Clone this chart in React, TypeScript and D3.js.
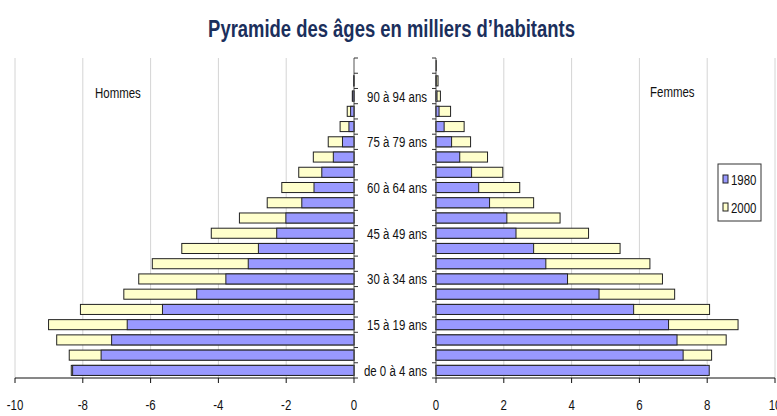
import React from "react";
import * as d3 from "d3";

const ages = [
  "de 0 à 4 ans", "5 à 9 ans", "10 à 14 ans", "15 à 19 ans", "20 à 24 ans",
  "25 à 29 ans", "30 à 34 ans", "35 à 39 ans", "40 à 44 ans", "45 à 49 ans",
  "50 à 54 ans", "55 à 59 ans", "60 à 64 ans", "65 à 69 ans", "70 à 74 ans",
  "75 à 79 ans", "80 à 84 ans", "85 à 89 ans", "90 à 94 ans", "95 à 99 ans",
  "100 ans et plus",
];
const hommes1980 = [8.30, 7.46, 7.15, 6.69, 5.65, 4.64, 3.78, 3.12, 2.82, 2.28, 2.01, 1.54, 1.18, 0.95, 0.61, 0.34, 0.15, 0.10, 0.04, 0.01, 0];
const hommes2000 = [8.34, 8.40, 8.77, 9.01, 8.07, 6.79, 6.35, 5.95, 5.08, 4.21, 3.38, 2.56, 2.13, 1.63, 1.20, 0.76, 0.41, 0.20, 0.05, 0.01, 0];
const femmes1980 = [8.06, 7.29, 7.11, 6.86, 5.83, 4.81, 3.88, 3.24, 2.88, 2.36, 2.09, 1.58, 1.26, 1.05, 0.70, 0.46, 0.24, 0.09, 0.03, 0.01, 0];
const femmes2000 = [7.95, 8.13, 8.56, 8.91, 8.07, 7.04, 6.68, 6.31, 5.43, 4.50, 3.66, 2.88, 2.47, 1.97, 1.52, 1.02, 0.83, 0.43, 0.13, 0.06, 0.01];
const ticksLeft = [-10, -8, -6, -4, -2, 0];
const ticksRight = [0, 2, 4, 6, 8, 10];
const seriesNames = ["1980", "2000"];

const C1980 = "#9999ff";
const C2000 = "#ffffcc";
const FONT = "'Liberation Sans', Arial, sans-serif";

function T(props: {
  x: number; y: number; size: number; sx?: number; anchor?: string; bold?: boolean; fill?: string; dy?: string; children: React.ReactNode;
}) {
  const { x, y, size, sx = 0.74, anchor = "start", bold = false, fill = "#111", dy, children } = props;
  return (
    <text
      transform={`translate(${x},${y}) scale(${sx},1)`}
      x={0}
      y={0}
      dy={dy}
      fontSize={size}
      fontWeight={bold ? "bold" : "normal"}
      textAnchor={anchor}
      fill={fill}
      fontFamily={FONT}
    >
      {children}
    </text>
  );
}

export default function App() {
  const W = 777, H = 416;
  const top = 58, bottom = 378;
  const xL = d3.scaleLinear().domain([-10, 0]).range([15, 354]);
  const xR = d3.scaleLinear().domain([0, 10]).range([436, 775]);
  const y = d3.scaleBand<string>().domain(ages).range([bottom, top]);
  const bw = y.bandwidth();
  const barY = (a: string) => (y(a) as number) + bw * 0.17;
  const barH = bw * 0.66;
  const boundaries = d3.range(ages.length + 1).map((i) => bottom - i * y.step());
  const FS = 15.5;

  return (
    <svg width={W} height={H} style={{ position: "absolute", left: 0, top: 0, background: "#fff" }} fontFamily={FONT}>
      <rect x={0} y={0} width={W} height={H} fill="#fff" />
      <T x={391.5} y={37} size={23.5} sx={0.785} bold anchor="middle" fill="#1b2f5c">
        Pyramide des âges en milliers d’habitants
      </T>

      {/* gridlines */}
      {ticksLeft.slice(0, -1).map((t) => (
        <line key={"gl" + t} x1={xL(t)} x2={xL(t)} y1={top} y2={bottom} stroke="#d4d4d4" strokeWidth={1} />
      ))}
      {ticksRight.slice(1).map((t) => (
        <line key={"gr" + t} x1={xR(t)} x2={xR(t)} y1={top} y2={bottom} stroke="#d4d4d4" strokeWidth={1} />
      ))}

      <T x={95} y={98} size={FS}>Hommes</T>
      <T x={650} y={97} size={FS}>Femmes</T>

      {/* bars: 2000 behind, 1980 in front */}
      {ages.map((a, i) => (
        <g key={"h" + a}>
          {hommes2000[i] > 0 && (
            <rect x={xL(-hommes2000[i])} y={barY(a)} width={xL(0) - xL(-hommes2000[i])} height={barH} fill={C2000} stroke="#222" strokeWidth={1} />
          )}
          {hommes1980[i] > 0 && (
            <rect x={xL(-hommes1980[i])} y={barY(a)} width={xL(0) - xL(-hommes1980[i])} height={barH} fill={C1980} stroke="#222" strokeWidth={1} />
          )}
        </g>
      ))}
      {ages.map((a, i) => (
        <g key={"f" + a}>
          {femmes2000[i] > 0 && (
            <rect x={xR(0)} y={barY(a)} width={xR(femmes2000[i]) - xR(0)} height={barH} fill={C2000} stroke="#222" strokeWidth={1} />
          )}
          {femmes1980[i] > 0 && (
            <rect x={xR(0)} y={barY(a)} width={xR(femmes1980[i]) - xR(0)} height={barH} fill={C1980} stroke="#222" strokeWidth={1} />
          )}
        </g>
      ))}

      {/* vertical axes */}
      <line x1={xL(0)} x2={xL(0)} y1={top} y2={bottom} stroke="#555" />
      {boundaries.map((b, i) => (
        <line key={"tl" + i} x1={xL(0)} x2={xL(0) + 4} y1={b} y2={b} stroke="#333" />
      ))}
      <line x1={xR(0)} x2={xR(0)} y1={top} y2={bottom} stroke="#555" />
      {boundaries.map((b, i) => (
        <line key={"tr" + i} x1={xR(0) - 4} x2={xR(0)} y1={b} y2={b} stroke="#333" />
      ))}

      {/* category labels */}
      {ages.map((a, i) =>
        i % 3 === 0 ? (
          <T key={"lab" + a} x={427} y={(y(a) as number) + bw / 2} dy="0.35em" anchor="end" size={FS}>
            {a}
          </T>
        ) : null
      )}

      {/* bottom axes */}
      <line x1={xL(-10)} x2={xL(0)} y1={bottom} y2={bottom} stroke="#111" />
      {ticksLeft.map((t) => (
        <g key={"xl" + t}>
          <line x1={xL(t)} x2={xL(t)} y1={bottom} y2={bottom + 5} stroke="#111" />
          <T x={xL(t)} y={410} anchor="middle" size={FS}>{String(t)}</T>
        </g>
      ))}
      <line x1={xR(0)} x2={xR(10)} y1={bottom} y2={bottom} stroke="#111" />
      {ticksRight.map((t) => (
        <g key={"xr" + t}>
          <line x1={xR(t)} x2={xR(t)} y1={bottom} y2={bottom + 5} stroke="#111" />
          <T x={xR(t)} y={410} anchor="middle" size={FS}>{String(t)}</T>
        </g>
      ))}

      {/* legend */}
      <rect x={718} y={164} width={43} height={57} fill="#fff" stroke="#333" strokeWidth={1} />
      {seriesNames.map((s, i) => (
        <g key={"lg" + s}>
          <rect x={723} y={175 + i * 28} width={5} height={8} fill={i === 0 ? C1980 : C2000} stroke="#222" />
          <T x={731} y={185 + i * 28} size={FS}>{s}</T>
        </g>
      ))}
    </svg>
  );
}
